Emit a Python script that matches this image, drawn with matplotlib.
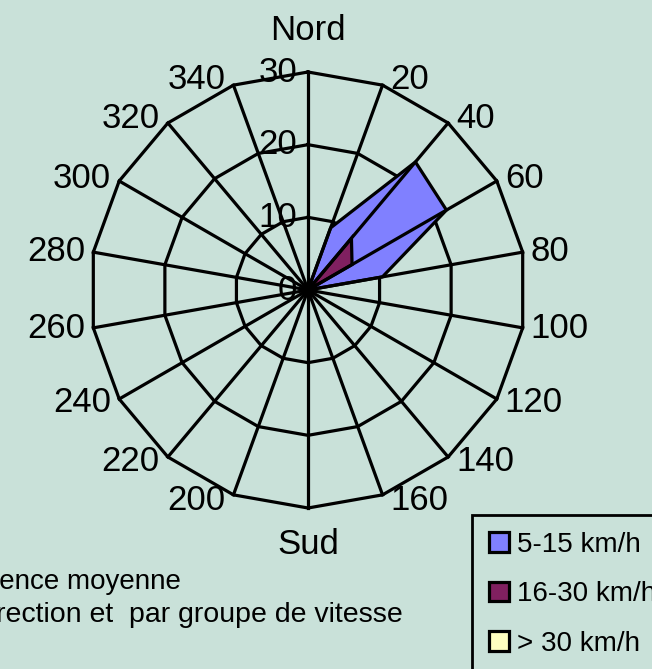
import numpy as np
import matplotlib.pyplot as plt

plt.rcParams['font.family'] = ['Liberation Sans', 'DejaVu Sans']

# wind directions (degrees) and mean frequency per speed group
directions = [0, 20, 40, 60, 80, 100, 120, 140, 160, 180,
              200, 220, 240, 260, 280, 300, 320, 340]
dir_labels = ['Nord', '20', '40', '60', '80', '100', '120', '140', '160', 'Sud',
              '200', '220', '240', '260', '280', '300', '320', '340']
speed_5_15 = [0, 9.1, 23, 22, 10.4, 0, 0, 0, 0, 0, 0, 0, 0, 0, 0, 0, 0, 0]
speed_16_30 = [0, 0, 9.3, 7.0, 0, 0, 0, 0, 0, 0, 0, 0, 0, 0, 0, 0, 0, 0]
speed_30_plus = [0] * 18
series_names = ['5-15 km/h', '16-30 km/h', '> 30 km/h']
series_colors = ['#8080FF', '#802060', '#FFFFC0']
rings = [10, 20, 30]

bg = '#C9E1D9'
fig = plt.figure(figsize=(6.52, 6.69), dpi=100, facecolor=bg)

# centre at (308, 290) px, radius 218 px
cx, cy, R = 308 / 652, 1 - 290 / 669, 218
ax = fig.add_axes([cx - R / 652, cy - R / 669, 2 * R / 652, 2 * R / 669],
                  projection='polar')
ax.set_theta_zero_location('N')
ax.set_theta_direction(-1)
ax.set_ylim(0, 30)
ax.grid(False)
ax.set_xticks([])
ax.set_yticks([])
ax.spines['polar'].set_visible(False)
ax.patch.set_visible(False)

theta = np.deg2rad(directions)
theta_closed = np.append(theta, theta[0])
lw = 2.3

# polygonal rings
for r in rings:
    ax.plot(theta_closed, [r] * len(theta_closed), color='black', lw=lw,
            zorder=1, clip_on=False)

# series
handles = []
for vals, name, col in zip([speed_5_15, speed_16_30, speed_30_plus],
                           series_names, series_colors):
    v = np.append(vals, vals[0])
    h = ax.fill(theta_closed, v, facecolor=col, edgecolor='black', lw=lw,
                zorder=2, label=name, clip_on=False)[0]
    handles.append(h)

# spokes drawn over the fills
for t in theta:
    ax.plot([t, t], [0, 30], color='black', lw=lw, zorder=3, clip_on=False)

# radial scale labels
for r in [0] + rings:
    ax.annotate(str(r), xy=(0, r), xytext=(-11, 0), textcoords='offset pixels',
                ha='right', va='center', fontsize=25)

# direction labels
for t, lab, d in zip(theta, dir_labels, directions):
    s, c = np.sin(t), np.cos(t)
    if d == 0:
        ax.annotate(lab, xy=(t, 30), xytext=(0, 42), textcoords='offset pixels',
                    ha='center', va='center', fontsize=25)
    elif d == 180:
        ax.annotate(lab, xy=(t, 30), xytext=(0, -37), textcoords='offset pixels',
                    ha='center', va='center', fontsize=25)
    else:
        ax.annotate(lab, xy=(t, 30), xytext=(8 * np.sign(s), 6 * c),
                    textcoords='offset pixels',
                    ha='left' if s > 0 else 'right', va='center', fontsize=25)

# caption, cut off on the left as in the original
fig.text(181 / 652, 1 - 589 / 669, 'Fréquence moyenne', ha='right',
         va='baseline', fontsize=20)
fig.text(403 / 652, 1 - 622 / 669, 'par direction et  par groupe de vitesse',
         ha='right', va='baseline', fontsize=20.5)

leg = fig.legend(handles=handles, loc='upper left',
                 bbox_to_anchor=(472 / 652, 1 - 515 / 669), fontsize=20,
                 frameon=True, fancybox=False, facecolor=bg, edgecolor='black',
                 framealpha=1, handlelength=0.72, handleheight=0.72,
                 handletextpad=0.3, labelspacing=0.85, borderpad=0.6,
                 borderaxespad=0)
leg.get_frame().set_linewidth(2)

fig.savefig('out.png', dpi=100, facecolor=bg)
